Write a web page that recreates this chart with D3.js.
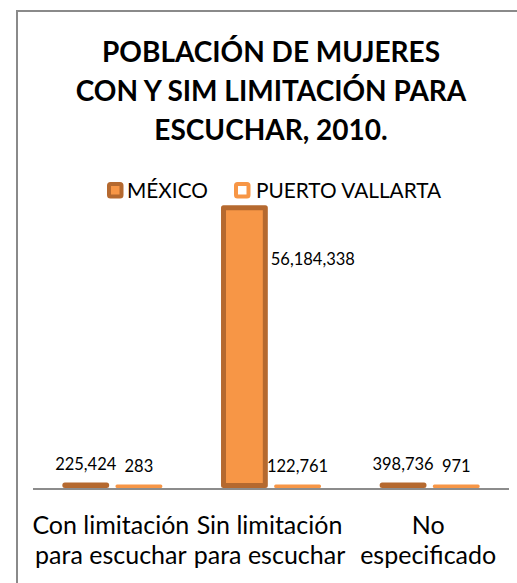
<!DOCTYPE html>
<html>
<head>
<meta charset="utf-8">
<script src="https://cdn.jsdelivr.net/npm/d3@7/dist/d3.min.js"></script>
<style>
  html, body { margin: 0; padding: 0; background: #fff; }
  svg { display: block; font-family: Lato, "Open Sans", sans-serif; }
</style>
</head>
<body>
<svg id="chart" width="517" height="583"></svg>
<script>
// Mujeres con y sin limitación para escuchar, 2010
const categories = [
  ["Con limitación", "para escuchar"],
  ["Sin limitación", "para escuchar"],
  ["No", "especificado"]
];
const seriesNames = ["MÉXICO", "PUERTO VALLARTA"];
const mexico = [225424, 56184338, 398736];
const puertoVallarta = [283, 122761, 971];
const titleLines = ["POBLACIÓN DE MUJERES", "CON Y SIM LIMITACIÓN PARA", "ESCUCHAR, 2010."];
const axisMax = 60000000;

const series = [
  { name: seriesNames[0], values: mexico, fill: "#F79646", stroke: "#B5692F", sw: 5 },
  { name: seriesNames[1], values: puertoVallarta, fill: "#FFFFFF", stroke: "#F79646", sw: 3 }
];

const svg = d3.select("#chart");
const fmt = d3.format(",");

// outer frame of the chart area
svg.append("rect")
  .attr("x", 17).attr("y", 11)
  .attr("width", 530).attr("height", 600)
  .attr("fill", "#fff").attr("stroke", "#8a8a8a").attr("stroke-width", 2);

// title
svg.append("g").selectAll("text").data(titleLines).join("text")
  .attr("x", 271).attr("y", (d, i) => 62 + i * 38.8)
  .attr("text-anchor", "middle")
  .attr("font-size", 28).attr("font-weight", 700).attr("fill", "#000")
  .text(d => d);

// legend
const legendItems = [
  { s: series[0], sx: 107, tx: 127 },
  { s: series[1], sx: 234, tx: 256 }
];
const lg = svg.append("g");
legendItems.forEach(it => {
  lg.append("rect")
    .attr("x", it.sx + 2).attr("y", 184).attr("width", 12.5).attr("height", 12.5)
    .attr("rx", 1.5)
    .attr("fill", it.s.fill).attr("stroke", it.s.stroke).attr("stroke-width", 4);
  lg.append("text")
    .attr("x", it.tx).attr("y", 197.5)
    .attr("font-size", 20.8).attr("fill", "#000")
    .text(it.s.name);
});

// scales
const x0 = d3.scaleBand()
  .domain(d3.range(categories.length))
  .range([33, 509])
  .paddingInner(0.37).paddingOuter(0.185);
const x1 = d3.scaleBand()
  .domain(d3.range(series.length))
  .range([0, x0.bandwidth()])
  .paddingInner(0.12);
const y = d3.scaleLinear().domain([0, axisMax]).range([488, 186]);

// bars (outline drawn inside the bar's outer edge, bottom resting on the axis)
const bars = svg.append("g");
series.forEach((s, si) => {
  s.values.forEach((v, ci) => {
    const left = x0(ci) + x1(si);
    const w = x1.bandwidth();
    const bottomC = y(0) - s.sw / 2;
    const topC = Math.min(y(v) + s.sw / 2, bottomC - 0.6);
    bars.append("rect")
      .attr("x", left + s.sw / 2)
      .attr("y", topC)
      .attr("width", w - s.sw)
      .attr("height", bottomC - topC)
      .attr("fill", s.fill)
      .attr("stroke", s.stroke)
      .attr("stroke-width", s.sw)
      .attr("stroke-linejoin", "round");
  });
});

// category axis line
svg.append("line")
  .attr("x1", 33).attr("x2", 509)
  .attr("y1", y(0) + 1).attr("y2", y(0) + 1)
  .attr("stroke", "#8c8c8c").attr("stroke-width", 2);

// value labels
const labels = svg.append("g").attr("font-size", 16.5).attr("fill", "#000");
series.forEach((s, si) => {
  s.values.forEach((v, ci) => {
    const left = x0(ci) + x1(si);
    const w = x1.bandwidth();
    const outerTop = Math.min(y(v), y(0) - s.sw);
    const tall = y(0) - outerTop > 100;
    const t = labels.append("text").text(fmt(v));
    if (tall) {
      // tall bar: label sits beside the bar, near its top
      t.attr("x", left + w + 3)
        .attr("y", outerTop + (y(0) - outerTop) * 0.213)
        .attr("text-anchor", "start");
    } else {
      t.attr("x", left + w / 2)
        .attr("y", outerTop - 13)
        .attr("text-anchor", "middle");
    }
  });
});

// category labels
const cat = svg.append("g").attr("font-size", 25).attr("fill", "#000");
categories.forEach((lines, ci) => {
  const cx = x0(ci) + x0.bandwidth() / 2 - 1.5;
  lines.forEach((ln, li) => {
    cat.append("text")
      .attr("x", cx).attr("y", 534 + li * 30)
      .attr("text-anchor", "middle")
      .text(ln);
  });
});
</script>
</body>
</html>
